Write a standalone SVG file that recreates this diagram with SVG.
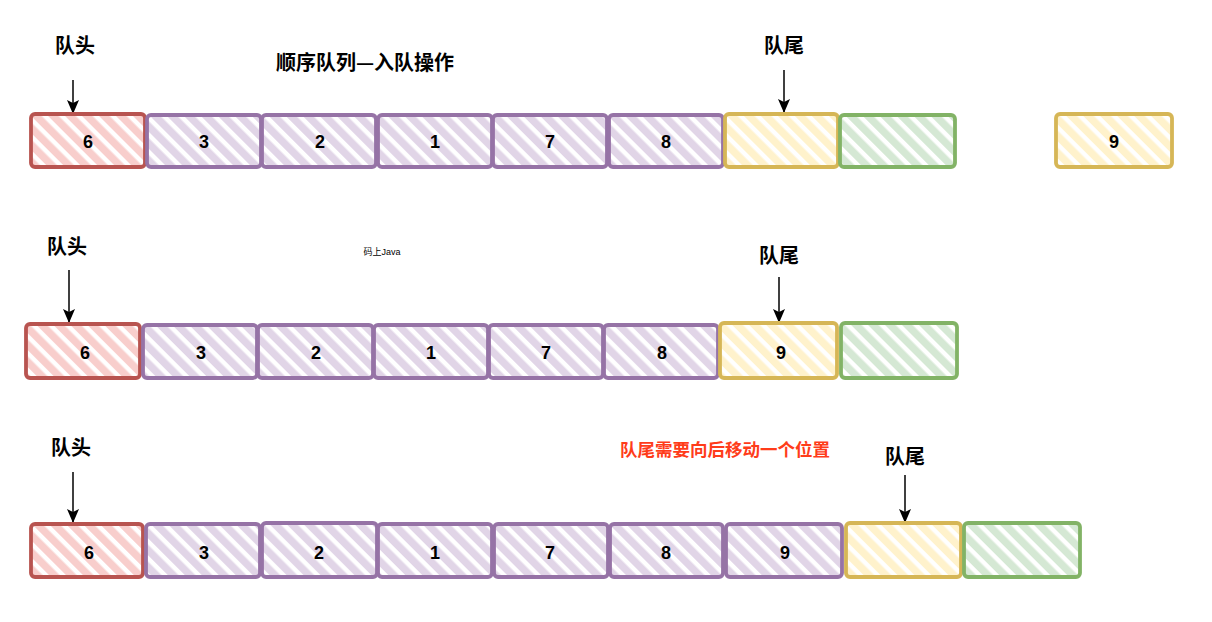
<svg xmlns="http://www.w3.org/2000/svg" width="1212" height="622" viewBox="0 0 1212 622">
<defs>
<pattern id="hr" width="12" height="12" patternUnits="userSpaceOnUse" patternTransform="rotate(-45)"><rect width="12" height="12" fill="#fff"/><rect width="7.5" height="12" fill="#f8cecc"/></pattern>
<pattern id="hp" width="12" height="12" patternUnits="userSpaceOnUse" patternTransform="rotate(-45)"><rect width="12" height="12" fill="#fff"/><rect width="7.5" height="12" fill="#e1d5e7"/></pattern>
<pattern id="hy" width="12" height="12" patternUnits="userSpaceOnUse" patternTransform="rotate(-45)"><rect width="12" height="12" fill="#fff"/><rect width="7.5" height="12" fill="#fff2cc"/></pattern>
<pattern id="hg" width="12" height="12" patternUnits="userSpaceOnUse" patternTransform="rotate(-45)"><rect width="12" height="12" fill="#fff"/><rect width="7.5" height="12" fill="#d5e8d4"/></pattern>
<marker id="ar" viewBox="0 0 14 12" refX="13" refY="6" markerWidth="14" markerHeight="12" markerUnits="userSpaceOnUse" orient="auto"><path d="M0,0 L14,6 L0,12 L3,6 Z" fill="#000"/></marker>
</defs>
<style>
.b rect{stroke-width:3.8;stroke-linejoin:round}
.r rect{fill:url(#hr);stroke:#b85450}
.p rect{fill:url(#hp);stroke:#9673a6}
.y rect{fill:url(#hy);stroke:#d6b656}
.g rect{fill:url(#hg);stroke:#82b366}
.n{font-family:"Liberation Sans",Arial,sans-serif;font-weight:bold;font-size:18px;text-anchor:middle;fill:#000}
.l{font-family:"Noto Sans CJK SC",sans-serif;font-weight:bold;font-size:20px;text-anchor:middle;fill:#000}
.c line{stroke:#000;stroke-width:1.5;marker-end:url(#ar)}
</style>
<rect width="1212" height="622" fill="#fff"/>
<g id="labels">
<text class="l" x="75" y="53">队头</text>
<text class="l" x="365" y="70">顺序队列—入队操作</text>
<text class="l" x="784" y="53">队尾</text>
<text class="l" x="67" y="254">队头</text>
<text x="382" y="255" font-family="'Liberation Sans','Noto Sans CJK SC',sans-serif" font-size="9" text-anchor="middle" fill="#000">码上Java</text>
<text class="l" x="779" y="263">队尾</text>
<text class="l" x="71" y="455">队头</text>
<text class="l" x="725" y="456" style="fill:#ff3c1a;font-size:17.5px">队尾需要向后移动一个位置</text>
<text class="l" x="905" y="464">队尾</text>
</g>
<g id="connectors" class="c">
<line x1="73" y1="80" x2="73" y2="113"/>
<line x1="784" y1="70" x2="784" y2="112"/>
<line x1="69" y1="270" x2="69" y2="322"/>
<line x1="779" y1="277" x2="779" y2="322"/>
<line x1="73" y1="472" x2="73" y2="522"/>
<line x1="905" y1="475" x2="905" y2="522"/>
</g>
<g id="row1">
<g id="r1n1" class="b r"><rect x="31" y="114" width="114" height="53" rx="4"/><text class="n" x="88" y="148">6</text></g>
<g id="r1n2" class="b p"><rect x="147" y="115" width="114" height="52" rx="4"/><text class="n" x="204" y="148">3</text></g>
<g id="r1n3" class="b p"><rect x="262" y="115" width="114" height="52" rx="4"/><text class="n" x="320" y="148">2</text></g>
<g id="r1n4" class="b p"><rect x="378" y="115" width="114" height="52" rx="4"/><text class="n" x="435" y="148">1</text></g>
<g id="r1n5" class="b p"><rect x="493" y="115" width="114" height="52" rx="4"/><text class="n" x="550" y="148">7</text></g>
<g id="r1n6" class="b p"><rect x="609" y="115" width="114" height="52" rx="4"/><text class="n" x="666" y="148">8</text></g>
<g id="r1n7" class="b y"><rect x="725" y="114" width="113" height="53" rx="4"/></g>
<g id="r1n8" class="b g"><rect x="840" y="115" width="115" height="52" rx="4"/></g>
<g id="r1n9" class="b y"><rect x="1056" y="114" width="116" height="53" rx="4"/><text class="n" x="1114" y="148">9</text></g>
</g>
<g id="row2">
<g id="r2n1" class="b r"><rect x="26" y="324" width="114" height="54" rx="4"/><text class="n" x="85" y="359">6</text></g>
<g id="r2n2" class="b p"><rect x="143" y="325" width="114" height="53" rx="4"/><text class="n" x="201" y="359">3</text></g>
<g id="r2n3" class="b p"><rect x="258" y="325" width="115" height="53" rx="4"/><text class="n" x="316" y="359">2</text></g>
<g id="r2n4" class="b p"><rect x="374" y="325" width="114" height="53" rx="4"/><text class="n" x="431" y="359">1</text></g>
<g id="r2n5" class="b p"><rect x="489" y="325" width="114" height="53" rx="4"/><text class="n" x="546" y="359">7</text></g>
<g id="r2n6" class="b p"><rect x="604" y="325" width="114" height="53" rx="4"/><text class="n" x="662" y="359">8</text></g>
<g id="r2n7" class="b y"><rect x="720" y="323" width="117" height="55" rx="4"/><text class="n" x="781" y="359">9</text></g>
<g id="r2n8" class="b g"><rect x="841" y="323" width="116" height="55" rx="4"/></g>
</g>
<g id="row3">
<g id="r3n1" class="b r"><rect x="31" y="524" width="112" height="53" rx="4"/><text class="n" x="89" y="559">6</text></g>
<g id="r3n2" class="b p"><rect x="146" y="524" width="114" height="53" rx="4"/><text class="n" x="204" y="559">3</text></g>
<g id="r3n3" class="b p"><rect x="262" y="523" width="115" height="54" rx="4"/><text class="n" x="319" y="559">2</text></g>
<g id="r3n4" class="b p"><rect x="378" y="524" width="114" height="53" rx="4"/><text class="n" x="435" y="559">1</text></g>
<g id="r3n5" class="b p"><rect x="494" y="524" width="114" height="53" rx="4"/><text class="n" x="550" y="559">7</text></g>
<g id="r3n6" class="b p"><rect x="610" y="524" width="113" height="53" rx="4"/><text class="n" x="666" y="559">8</text></g>
<g id="r3n7" class="b p"><rect x="726" y="524" width="116" height="53" rx="4"/><text class="n" x="785" y="559">9</text></g>
<g id="r3n8" class="b y"><rect x="846" y="523" width="115" height="54" rx="4"/></g>
<g id="r3n9" class="b g"><rect x="964" y="523" width="116" height="54" rx="4"/></g>
</g>
</svg>
